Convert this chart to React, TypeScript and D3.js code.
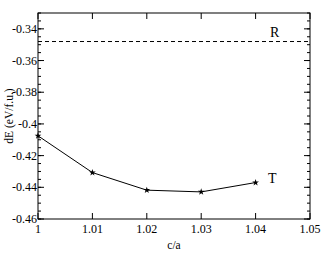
import React from "react";
import * as d3 from "d3";

// c/a values and energies (eV/f.u.)
const ratios = [1.0, 1.01, 1.02, 1.03, 1.04];
const tEnergy = [-0.4075, -0.4307, -0.4418, -0.4429, -0.437];
const rEnergy = -0.348;
const xTicks = [1, 1.01, 1.02, 1.03, 1.04, 1.05];
const yTicks = [-0.46, -0.44, -0.42, -0.4, -0.38, -0.36, -0.34];

const W = 330,
  H = 255;
const margin = { top: 13, right: 20, bottom: 36, left: 38 };

const fmt = (v: number) => String(+v.toFixed(2));

export default function App() {
  const x = d3.scaleLinear().domain([1, 1.05]).range([margin.left, W - margin.right]);
  const y = d3.scaleLinear().domain([-0.46, -0.33]).range([H - margin.bottom, margin.top]);

  const line = d3
    .line<number>()
    .x((_, i) => x(ratios[i]))
    .y((d) => y(d));

  const minorY = d3.range(-0.46, -0.3299, 0.005).map((v) => +v.toFixed(3));
  const star = d3.symbol().type(d3.symbolStar).size(14)() as string;

  const x0 = margin.left,
    x1 = W - margin.right,
    y0 = H - margin.bottom,
    y1 = margin.top;
  const font = "'Liberation Serif', 'DejaVu Serif', serif";

  return (
    <svg
      width={W}
      height={H}
      style={{ position: "absolute", left: 0, top: 0 }}
      fontFamily={font}
    >
      <rect x={0} y={0} width={W} height={H} fill="#fff" />
      {/* minor y ticks, both sides */}
      {minorY.map((v) => (
        <g key={"m" + v} stroke="#000" strokeWidth={1}>
          <line x1={x0} x2={x0 + 3} y1={y(v)} y2={y(v)} />
          <line x1={x1} x2={x1 - 3} y1={y(v)} y2={y(v)} />
        </g>
      ))}
      {yTicks.map((v) => (
        <g key={"y" + v}>
          <line x1={x0} x2={x0 + 6} y1={y(v)} y2={y(v)} stroke="#000" />
          <line x1={x1} x2={x1 - 6} y1={y(v)} y2={y(v)} stroke="#000" />
          <text x={x0 - 1} y={y(v) + 4} textAnchor="end" fontSize={12}>
            {fmt(v)}
          </text>
        </g>
      ))}
      {xTicks.map((v) => (
        <g key={"x" + v}>
          <line x1={x(v)} x2={x(v)} y1={y0} y2={y0 - 6} stroke="#000" />
          <line x1={x(v)} x2={x(v)} y1={y1} y2={y1 + 6} stroke="#000" />
          <text x={x(v)} y={y0 + 14} textAnchor="middle" fontSize={12}>
            {fmt(v)}
          </text>
        </g>
      ))}
      <rect
        x={x0}
        y={y1}
        width={x1 - x0}
        height={y0 - y1}
        fill="none"
        stroke="#000"
        strokeWidth={1}
      />
      <line
        x1={x0}
        x2={x1}
        y1={y(rEnergy)}
        y2={y(rEnergy)}
        stroke="#000"
        strokeDasharray="4,3"
      />
      <path d={line(tEnergy) as string} fill="none" stroke="#000" strokeWidth={1} />
      {tEnergy.map((v, i) => (
        <path key={i} d={star} transform={`translate(${x(ratios[i])},${y(v)})`} fill="#000" />
      ))}
      <text x={270} y={37} fontSize={14}>
        R
      </text>
      <text x={268} y={183} fontSize={14}>
        T
      </text>
      <text x={(x0 + x1) / 2} y={249} textAnchor="middle" fontSize={11.5}>
        c/a
      </text>
      <text
        transform={`translate(13,${(y0 + y1) / 2}) rotate(-90)`}
        textAnchor="middle"
        fontSize={11.5}
      >
        dE (eV/f.u.)
      </text>
    </svg>
  );
}
